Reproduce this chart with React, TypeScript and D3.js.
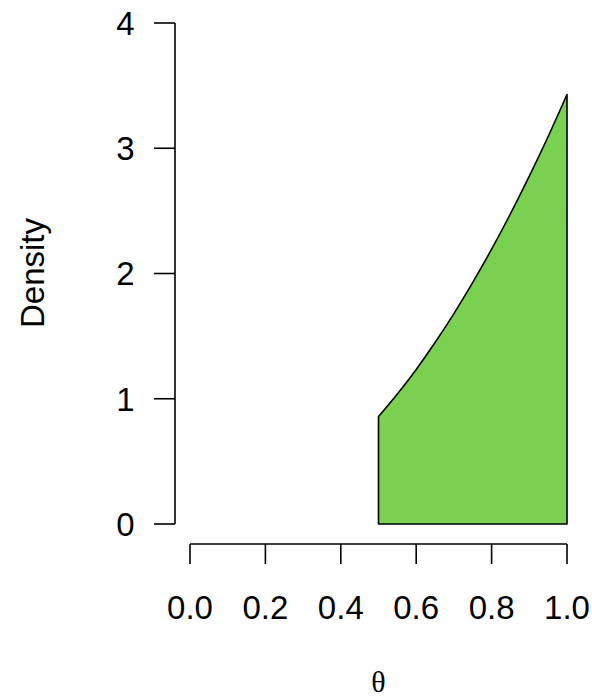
import React from "react";
import * as d3 from "d3";

const thetaVals = [0.5, 0.55, 0.6, 0.65, 0.7, 0.75, 0.8, 0.85, 0.9, 0.95, 1.0];
const densityVals = [0.857, 1.037, 1.234, 1.449, 1.68, 1.929, 2.194, 2.477, 2.777, 3.094, 3.429];
const xTicks = [0, 0.2, 0.4, 0.6, 0.8, 1.0];
const yTicks = [0, 1, 2, 3, 4];

export default function App() {
  const W = 592, H = 700;
  const x = d3.scaleLinear().domain([0, 1]).range([190, 567]);
  const y = d3.scaleLinear().domain([0, 4]).range([524, 23]);
  const axisY = 544;
  const axisX = 175;

  const pts: [number, number][] = thetaVals.map((t, i) => [t, densityVals[i]]);
  const curve = d3.line<[number, number]>()
    .x(d => x(d[0]))
    .y(d => y(d[1]))
    .curve(d3.curveMonotoneX)(pts) || "";
  const x0 = x(thetaVals[0]);
  const x1 = x(thetaVals[thetaVals.length - 1]);
  const y0 = y(0);
  const poly = `M${x0},${y0}L${curve.slice(1)}L${x1},${y0}Z`;

  const font = "Liberation Sans, Arial, Helvetica, sans-serif";
  const fs = 33;
  return (
    <svg width={W} height={H} style={{ position: "absolute", left: 0, top: 0, background: "#fff" }}>
      <path d={poly} fill="#7AD151" stroke="#000" strokeWidth={1.6} strokeLinejoin="round" />
      {/* y axis */}
      <line x1={axisX} x2={axisX} y1={y(4)} y2={y(0)} stroke="#000" strokeWidth={1.6} />
      {yTicks.map(t => (
        <g key={t}>
          <line x1={axisX - 21} x2={axisX} y1={y(t)} y2={y(t)} stroke="#000" strokeWidth={1.6} />
          <text x={134.5} y={y(t)} dy="0.36em" textAnchor="end" fontFamily={font} fontSize={fs}>{t}</text>
        </g>
      ))}
      {/* x axis */}
      <line x1={x(0)} x2={x(1)} y1={axisY} y2={axisY} stroke="#000" strokeWidth={1.6} />
      {xTicks.map(t => (
        <g key={t}>
          <line x1={x(t)} x2={x(t)} y1={axisY} y2={axisY + 20} stroke="#000" strokeWidth={1.6} />
          <text x={x(t)} y={607} dy="0.36em" textAnchor="middle" fontFamily={font} fontSize={fs}>{t.toFixed(1)}</text>
        </g>
      ))}
      <text transform={`translate(44,273) rotate(-90)`} textAnchor="middle" fontFamily={font} fontSize={fs}>Density</text>
      <text x={378.5} y={692} textAnchor="middle" fontFamily="Liberation Serif, DejaVu Serif, serif" fontSize={30}>θ</text>
    </svg>
  );
}
